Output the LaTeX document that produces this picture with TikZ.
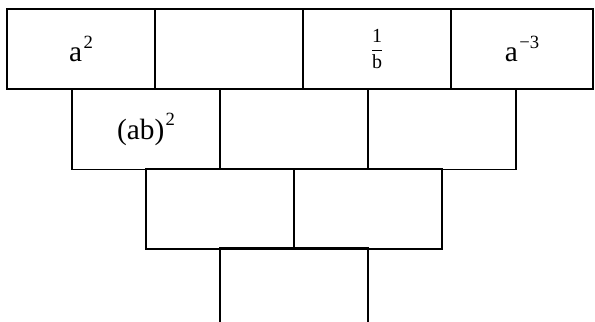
\documentclass[tikz,border=0pt]{standalone}
\usepackage{amsmath}
\usepackage{fontspec}
\setmainfont{Liberation Serif}
\usepackage{tikz}

\newcommand{\up}[1]{\kern1pt\raisebox{1ex}{\fontsize{14pt}{14pt}\selectfont #1}}

\begin{document}
\begin{tikzpicture}[
    x=0.75pt, y=-0.75pt,
    brick/.style={draw, line width=1.4pt, rectangle, inner sep=0pt,
                  minimum width=111pt, minimum height=60pt,
                  font=\fontsize{22pt}{26pt}\selectfont}
]
    \useasboundingbox (0,0) rectangle (595,321);
    \clip (0,0) rectangle (595,321);

    % Top row
    \node[brick] (r1a) at (81,49) {a\up{2}};
    \node[brick] (r1b) at (229,49) {};
    \node[brick] (r1c) at (377,49) {\fontsize{15pt}{15pt}\selectfont$\dfrac{\text{1}}{\text{b}}$};
    \node[brick, minimum width=106.5pt] (r1d) at (522,49) {a\up{−3}};

    % Second row
    \node[brick] (r2a) at (146,129.5) {(ab)\up{2}};
    \node[brick] (r2b) at (294,129.5) {};
    \node[brick] (r2c) at (442,129.5) {};

    % Third row
    \node[brick] (r3a) at (220,209) {};
    \node[brick] (r3b) at (368,209) {};

    % Bottom brick (cut off by the page)
    \node[brick] (r4a) at (294,288) {};
\end{tikzpicture}
\end{document}
